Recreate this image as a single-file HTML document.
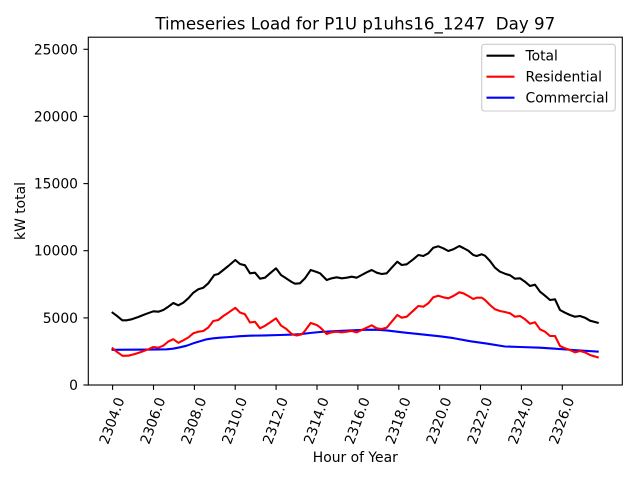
<!DOCTYPE html>
<html><head><meta charset="utf-8"><style>
html,body{margin:0;padding:0;background:#fff;}
svg{display:block;font-family:"DejaVu Sans","Liberation Sans",sans-serif;}
</style></head><body>
<svg width="640" height="480" viewBox="0 0 640 480" xmlns="http://www.w3.org/2000/svg">
<rect x="0" y="0" width="640" height="480" fill="#fff"/>
<text x="355.3" y="29.3" font-size="16.67" text-anchor="middle" style="white-space:pre" xml:space="preserve">Timeseries Load for P1U p1uhs16_1247  Day 97</text>

<g fill="none" stroke-width="2.1" stroke-linejoin="round" stroke-linecap="square">
<polyline stroke="#0000ff" points="112.6,349.8 130,349.7 150,349.6 166.7,349.3 173,348.7 180,347.3 186.7,345.7 193.3,343.3 200,341.3 206.7,339.3 213.3,338.3 220,337.7 230,337 240,336.2 250,335.7 265,335.4 280,335 293.3,334.6 300,334.2 310,333 320,332 336.7,331 353.3,330.3 365,329.8 375,329.7 386.7,330.4 403.3,332.4 420,334.2 440,336.3 453.3,338.1 470,341.2 486.7,343.6 505,346.5 520,347 540,347.7 553.3,348.6 573.3,350 597.7,351.6"/>
<polyline stroke="#ff0000" points="112.6,348.3 116.7,351.7 122.5,355.8 128.3,355.7 135,354 141.7,351.7 148.3,349.3 153.3,347 158.3,347.7 163.3,345.7 168.3,341.5 173.3,339.2 178.3,342.8 183.3,340.3 188.3,337.5 193.3,333.3 198.3,331.7 203.3,331 208.3,327.5 213.3,321 218.3,320 223.3,316 228.3,312.7 235.3,307.8 240,312.5 245,314.3 250,322.5 255,321.8 260,328.3 265,325.8 270,322.5 276,318.3 281,325.5 286,328.7 291.7,334 296.7,335.5 301.7,334.3 305,330.8 310.7,323 316.7,325 320,327.3 326.7,334 331.7,332.3 336.7,331.7 341.7,332.3 346.7,331.7 351.7,331 356.7,332.3 361.7,330 366.7,327.7 371.7,325.3 376.7,328.3 381.7,329 386.7,327.7 391.7,321.7 397.3,315 401.7,317.7 406.7,316.7 413.3,310.7 418.3,306 423.3,306.7 428.3,303.3 433.3,297.3 438.3,295.7 443.3,297.3 448.3,298.3 453.3,296 459.3,292.3 463.3,293.3 468.3,296 473.3,299 476.7,297.7 481.7,297.7 485,300 490,305 495,309.3 500,311 505,312 510,313.3 515,316.7 520,316 525,319.3 530,323.7 535,322.3 540,329.3 545,331.7 550,336 555,336 560,346 565,348.3 570,350 575,352.3 580,351 585,352.3 590,355 597.7,357.3"/>
<polyline stroke="#000000" points="112.6,312.7 116.7,315.7 122.3,320.3 126.7,320.3 131.7,319.3 138.3,317 145,314.3 153.3,311.3 158.3,311.7 163.3,310 168.3,306.7 173.3,303 178.3,305.3 183.3,302.7 188.3,298.3 193.3,292.7 198.3,289.3 203.3,287.7 208.3,283.3 214.3,275 218.3,274 223.3,270 228.3,266 235.3,260 240,264 245,265.3 250,273.3 255,272.7 260,278.7 265,277.7 270,273.3 276,268.3 281,275 286,278.3 291.7,282 295,283.7 300,283.3 305,278.3 310.7,270 316.7,272 320,273.3 326.7,280 331.7,278.3 336.7,277.3 341.7,278.3 346.7,277.7 351.7,276.7 356.7,277.7 361.7,275 366.7,272.3 371.7,270 376.7,272.7 381.7,274 386.7,273.3 391.7,267.7 397.3,261.7 401.7,265 406.7,264.3 413.3,259.3 418.3,255 423.3,256 428.3,253.3 433.3,247.7 438.3,246.3 443.3,248.3 448.3,251 453.3,249.3 459.3,246 463.3,248 468.3,250.7 473.3,255 476.7,256 481.7,254.3 485,255.7 490,261 495,267.7 500,271.7 505,273.7 510,275.3 515,278.7 520,278.3 525,281.7 530,286 535,284.7 540,291.7 545,295.7 550,300 555,299.3 560,310 565,312.7 570,315 575,316.7 580,316 585,317.7 590,320.7 597.7,322.7"/>
</g>

<rect x="88.3" y="37.2" width="534" height="347.8" fill="none" stroke="#000" stroke-width="1.1"/>

<!-- y ticks -->
<g stroke="#000" stroke-width="1.1">
<line x1="83.4" y1="385" x2="88.3" y2="385"/>
<line x1="83.4" y1="317.9" x2="88.3" y2="317.9"/>
<line x1="83.4" y1="250.7" x2="88.3" y2="250.7"/>
<line x1="83.4" y1="183.6" x2="88.3" y2="183.6"/>
<line x1="83.4" y1="116.4" x2="88.3" y2="116.4"/>
<line x1="83.4" y1="49.3" x2="88.3" y2="49.3"/>
</g>
<g font-size="13.89" text-anchor="end">
<text x="78" y="390">0</text>
<text x="78" y="322.9">5000</text>
<text x="78" y="255.7">10000</text>
<text x="78" y="188.6">15000</text>
<text x="78" y="121.4">20000</text>
<text x="78" y="54.3">25000</text>
</g>
<text transform="translate(25,211) rotate(-90)" font-size="13.89" text-anchor="middle">kW total</text>

<!-- x ticks -->
<g stroke="#000" stroke-width="1.1">
<line x1="112.6" y1="385" x2="112.6" y2="389.9"/>
<line x1="153.5" y1="385" x2="153.5" y2="389.9"/>
<line x1="194.4" y1="385" x2="194.4" y2="389.9"/>
<line x1="235.2" y1="385" x2="235.2" y2="389.9"/>
<line x1="276.1" y1="385" x2="276.1" y2="389.9"/>
<line x1="317.0" y1="385" x2="317.0" y2="389.9"/>
<line x1="357.9" y1="385" x2="357.9" y2="389.9"/>
<line x1="398.8" y1="385" x2="398.8" y2="389.9"/>
<line x1="439.6" y1="385" x2="439.6" y2="389.9"/>
<line x1="480.5" y1="385" x2="480.5" y2="389.9"/>
<line x1="521.4" y1="385" x2="521.4" y2="389.9"/>
<line x1="562.3" y1="385" x2="562.3" y2="389.9"/>
</g>
<g font-size="13.89" text-anchor="middle" dominant-baseline="central">
<text transform="translate(112.6,421) rotate(-70)">2304.0</text>
<text transform="translate(153.5,421) rotate(-70)">2306.0</text>
<text transform="translate(194.4,421) rotate(-70)">2308.0</text>
<text transform="translate(235.2,421) rotate(-70)">2310.0</text>
<text transform="translate(276.1,421) rotate(-70)">2312.0</text>
<text transform="translate(317.0,421) rotate(-70)">2314.0</text>
<text transform="translate(357.9,421) rotate(-70)">2316.0</text>
<text transform="translate(398.8,421) rotate(-70)">2318.0</text>
<text transform="translate(439.6,421) rotate(-70)">2320.0</text>
<text transform="translate(480.5,421) rotate(-70)">2322.0</text>
<text transform="translate(521.4,421) rotate(-70)">2324.0</text>
<text transform="translate(562.3,421) rotate(-70)">2326.0</text>
</g>
<text x="355.3" y="462" font-size="13.89" text-anchor="middle">Hour of Year</text>

<!-- legend -->
<rect x="481.7" y="44.3" width="133.6" height="66.7" rx="2.8" ry="2.8" fill="#fff" fill-opacity="0.8" stroke="#cccccc" stroke-width="1.1"/>
<g stroke-width="2.1">
<line x1="486.5" y1="55.7" x2="514.5" y2="55.7" stroke="#000"/>
<line x1="486.5" y1="76.7" x2="514.5" y2="76.7" stroke="#ff0000"/>
<line x1="486.5" y1="97.7" x2="514.5" y2="97.7" stroke="#0000ff"/>
</g>
<g font-size="13.89">
<text x="525.5" y="60.7">Total</text>
<text x="525.5" y="81.7">Residential</text>
<text x="525.5" y="102.7">Commercial</text>
</g>
</svg>
</body></html>
